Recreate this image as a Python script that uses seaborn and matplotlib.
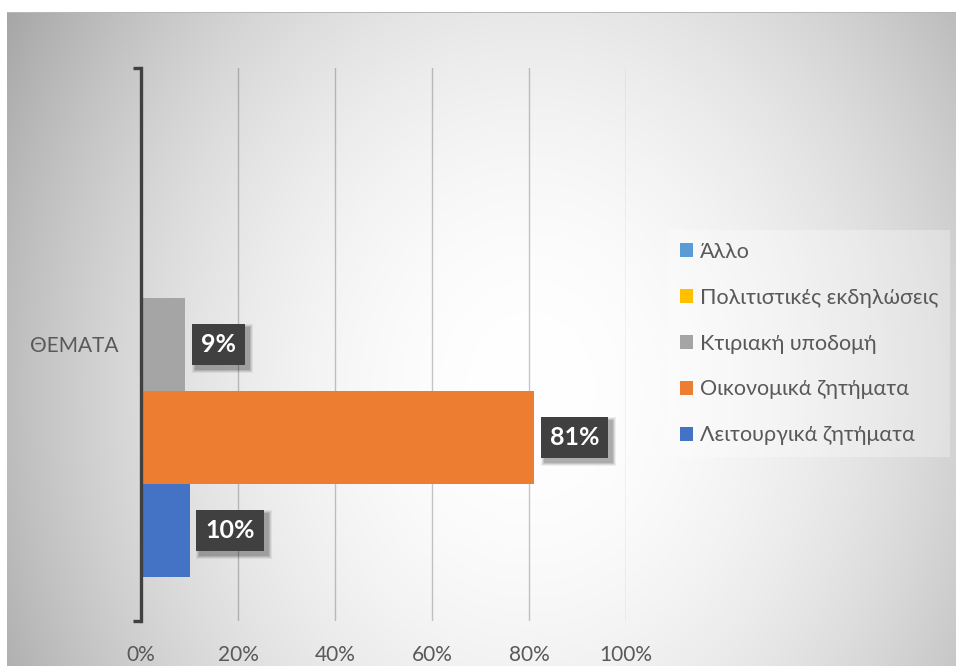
import numpy as np
import pandas as pd
import matplotlib
matplotlib.use("Agg")
import matplotlib.pyplot as plt
import seaborn as sns
from matplotlib.patches import Patch, Rectangle
from matplotlib.ticker import PercentFormatter

# --- data -------------------------------------------------------------
category = ["ΘΕΜΑΤΑ"]
series = ["Άλλο", "Πολιτιστικές εκδηλώσεις", "Κτιριακή υποδομή",
          "Οικονομικά ζητήματα", "Λειτουργικά ζητήματα"]
shares = [0.00, 0.00, 0.09, 0.81, 0.10]
colors = ["#5B9BD5", "#FFC000", "#A5A5A5", "#ED7D31", "#4472C4"]
x_ticks = [0.0, 0.2, 0.4, 0.6, 0.8, 1.0]

df = pd.DataFrame({"cat": category * len(series), "series": series, "share": shares})

sns.set_theme(style="white")
plt.rcParams["font.family"] = ["Lato", "Open Sans", "DejaVu Sans"]
plt.rcParams["hatch.color"] = "#5a5a5a"
plt.rcParams["hatch.linewidth"] = 0.8

W, H, DPI = 956, 666, 100
fig = plt.figure(figsize=(W / DPI, H / DPI), dpi=DPI, facecolor="white")

# --- radial backdrop of the chart area ---------------------------------
bg = fig.add_axes([0, 0, 1, 1], zorder=-10)
yy, xx = np.mgrid[0:H, 0:W]
r2 = ((xx - 530) / 590.0) ** 2 + ((yy - 390) / 720.0) ** 2
shade = np.clip(1.0 - 0.33 * r2, 0, 1)
shade[:12, :] = 1.0
shade[:, :7] = 1.0
shade[12, 7:] = 0.72
img = np.dstack([shade, shade, shade])
bg.imshow(img, aspect="auto", interpolation="bilinear")
bg.set_axis_off()

# --- plot area ----------------------------------------------------------
left, right = 141 / W, 626 / W
top, bottom = 1 - 68 / H, 1 - 621 / H
ax = fig.add_axes([left, bottom, right - left, top - bottom])
ax.set_facecolor("none")

sns.barplot(data=df, x="share", y="cat", hue="series", hue_order=series,
            palette=colors, orient="h", width=0.84, saturation=1,
            linewidth=0, edgecolor="none", legend=False, ax=ax, zorder=3)

ax.set_xlim(0, 1)
ax.set_ylim(0.5, -0.5)
ax.set_xlabel("")
ax.set_ylabel("")

# grid and axes
ax.set_xticks(x_ticks)
ax.xaxis.set_major_formatter(PercentFormatter(1.0, decimals=0))
ax.xaxis.grid(True, color="black", alpha=0.22, linewidth=1.0)
ax.yaxis.grid(False)
ax.set_axisbelow(True)
for s in ["top", "right", "bottom"]:
    ax.spines[s].set_visible(False)
ax.spines["left"].set_color("#404040")
ax.spines["left"].set_linewidth(2.4)
ax.spines["left"].set_zorder(5)

ax.tick_params(axis="x", length=0, pad=17, labelsize=15, labelcolor="#595959")
ax.set_yticks([0])
ax.set_yticklabels(category)
ax.tick_params(axis="y", which="major", length=0, pad=16, labelsize=15,
               labelcolor="#595959")
ax.set_yticks([-0.5, 0.5], minor=True)
ax.tick_params(axis="y", which="minor", length=6, width=2.4, color="#404040",
               direction="out", left=True)

# --- value labels -----------------------------------------------------
label_fs = 18
pad_fr = 0.36
labels = []
for cont, val in zip(ax.containers, shares):
    if val <= 0:
        continue
    bar = cont[0]
    yc = bar.get_y() + bar.get_height() / 2
    off = 5 + pad_fr * label_fs
    t = ax.annotate(f"{val:.0%}", xy=(val, yc), xytext=(off, 0),
                    textcoords="offset points", ha="left", va="center",
                    fontsize=label_fs, fontweight="bold", color="white", zorder=7,
                    bbox=dict(boxstyle=f"square,pad={pad_fr}",
                              facecolor="#404040", edgecolor="none"))
    t.get_bbox_patch().set_hatch("..")
    labels.append(t)

# soft drop shadow behind each label box
fig.canvas.draw()
for t in labels:
    ext = t.get_bbox_patch().get_window_extent()
    for k, a in enumerate([0.06, 0.08, 0.10, 0.12]):
        g = 4 - k
        fig.add_artist(Rectangle((ext.x0 + 4 - g, ext.y0 - 4 - g),
                                 ext.width + 2 * g, ext.height + 2 * g,
                                 transform=None, facecolor="black",
                                 edgecolor="none", alpha=a, zorder=0.5))
    ax.set_zorder(1)

# --- legend -------------------------------------------------------------
handles = [Patch(facecolor=c, edgecolor="none") for c in colors]
leg = fig.legend(handles, series, loc="upper left",
                 bbox_to_anchor=(668 / W, 1 - 230 / H), bbox_transform=fig.transFigure,
                 frameon=True, facecolor="white", framealpha=0.3, edgecolor="none",
                 fancybox=False, fontsize=15.5, labelcolor="#595959",
                 handlelength=0.62, handleheight=0.62, handletextpad=0.3,
                 labelspacing=1.2, borderpad=0.55, borderaxespad=0)

fig.savefig("out.png", dpi=DPI, facecolor="white")
